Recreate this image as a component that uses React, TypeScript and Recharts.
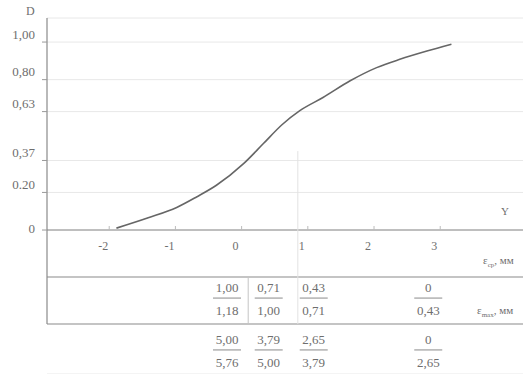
import React from 'react';
import { ComposedChart, Line, Scatter, XAxis, YAxis, CartesianGrid, ReferenceLine } from 'recharts';

// Curve D(v)
const curveV = [-1.8, -1.32, -0.89, -0.59, -0.29, 0.12, 0.42, 0.7, 0.97, 1.32, 1.73, 2.13, 2.48, 2.89, 3.26];
const curveD = [0.01, 0.065, 0.12, 0.176, 0.238, 0.353, 0.46, 0.56, 0.635, 0.705, 0.794, 0.864, 0.908, 0.952, 0.988];

const yTickValues = [0, 0.2, 0.37, 0.63, 0.8, 1.0];
const yTickLabels = ['0', '0.20', '0,37', '0,63', '0,80', '1,00'];

const xTickValues = [-2, -1, 0, 1, 2, 3];
const xTickLabels = ['-2', '-1', '0', '1', '2', '3'];

// table below the axis
const tableColumns = [-0.13, 0.5, 1.18, 2.91];
const row1Num = ['1,00', '0,71', '0,43', '0'];
const row1Den = ['1,18', '1,00', '0,71', '0,43'];
const row2Num = ['5,00', '3,79', '2,65', '0'];
const row2Den = ['5,76', '5,00', '3,79', '2,65'];
const rowLevels = [-0.362, -0.638];
const tableLines = [-0.25, -0.5];
const colSeparators = [0.19, 0.94];

const X_DOMAIN: [number, number] = [-2.849, 4.341];
const Y_DOMAIN: [number, number] = [-0.766, 1.128];

const curveData = curveV.map((x, i) => ({ x, y: curveD[i] }));
const xTickData = xTickValues.map((x, i) => ({ x, y: 0, label: xTickLabels[i] }));
const fractionData = [
  ...tableColumns.map((x, i) => ({ x, y: rowLevels[0], num: row1Num[i], den: row1Den[i] })),
  ...tableColumns.map((x, i) => ({ x, y: rowLevels[1], num: row2Num[i], den: row2Den[i] })),
];

const FONT = "'Liberation Serif', 'DejaVu Serif', serif";
const TXT = '#6e6e6e';

const YTick = (props: any) => {
  const { x, y, payload } = props;
  const idx = yTickValues.indexOf(payload.value);
  const lift = payload.value === 0 ? 2 : 8;
  return (
    <text x={x} y={y - lift} dy="0.355em" textAnchor="end" fontFamily={FONT} fontSize={13} fill={TXT}>
      {yTickLabels[idx]}
    </text>
  );
};

const XTickShape = (props: any) => {
  const { cx, cy, payload } = props;
  return (
    <g>
      <line x1={cx + 6} x2={cx + 6} y1={cy - 4} y2={cy} stroke="#bbb" />
      <text x={cx} y={cy + 20} textAnchor="middle" fontFamily={FONT} fontSize={12} fill={TXT}>
        {payload.label}
      </text>
    </g>
  );
};

const FractionShape = (props: any) => {
  const { cx, cy, payload } = props;
  return (
    <g>
      <text x={cx} y={cy - 6} textAnchor="middle" fontFamily={FONT} fontSize={13} fill={TXT}>
        {payload.num}
      </text>
      <line x1={cx - 14} x2={cx + 14} y1={cy} y2={cy} stroke="#8a8a8a" strokeWidth={1} />
      <text x={cx} y={cy + 17} textAnchor="middle" fontFamily={FONT} fontSize={13} fill={TXT}>
        {payload.den}
      </text>
    </g>
  );
};

const labelStyle: React.CSSProperties = {
  position: 'absolute',
  fontFamily: FONT,
  color: TXT,
  whiteSpace: 'nowrap',
};

export default function App() {
  return (
    <div style={{ position: 'absolute', left: 0, top: 0, width: 523, height: 374, background: '#fff', overflow: 'hidden' }}>
      <ComposedChart width={523} height={374} margin={{ top: 18, right: 0, bottom: 0, left: 0 }}>
        <CartesianGrid horizontal vertical={false} stroke="#e8e8e8" />
        <XAxis type="number" dataKey="x" domain={X_DOMAIN} hide allowDataOverflow />
        <YAxis
          type="number"
          dataKey="y"
          domain={Y_DOMAIN}
          ticks={yTickValues}
          width={47}
          axisLine={false}
          tickLine={{ stroke: '#999' }}
          tickSize={5}
          tickMargin={7}
          tick={<YTick />}
          allowDataOverflow
        />
        <ReferenceLine
          segment={[{ x: X_DOMAIN[0], y: tableLines[1] }, { x: X_DOMAIN[0], y: Y_DOMAIN[1] }]}
          stroke="#8a8a8a"
          strokeWidth={1.2}
        />
        <ReferenceLine y={0} stroke="#8a8a8a" strokeWidth={1.2} />
        {tableLines.map((v) => (
          <ReferenceLine key={v} y={v} stroke="#8a8a8a" strokeWidth={1.2} />
        ))}
        <ReferenceLine
          segment={[{ x: colSeparators[0], y: tableLines[0] }, { x: colSeparators[0], y: tableLines[1] }]}
          stroke="#c4c4c4"
        />
        <ReferenceLine
          segment={[{ x: colSeparators[1], y: 0.42 }, { x: colSeparators[1], y: tableLines[1] }]}
          stroke="#e2e2e2"
        />
        <Line
          data={curveData}
          dataKey="y"
          type="monotone"
          stroke="#666"
          strokeWidth={1.6}
          dot={false}
          isAnimationActive={false}
        />
        <Scatter data={xTickData} dataKey="y" shape={<XTickShape />} isAnimationActive={false} />
        <Scatter data={fractionData} dataKey="y" shape={<FractionShape />} isAnimationActive={false} />
      </ComposedChart>
      <div style={{ ...labelStyle, left: 26, top: 5, fontSize: 12, lineHeight: '12px' }}>D</div>
      <div style={{ ...labelStyle, left: 501, top: 205, fontSize: 11, lineHeight: '12px' }}>Y</div>
      <div style={{ ...labelStyle, left: 483, top: 254, fontSize: 11, lineHeight: '12px' }}>
        ε<sub style={{ fontSize: 7 }}>ср</sub>, мм
      </div>
      <div style={{ ...labelStyle, left: 477, top: 304, fontSize: 11, lineHeight: '12px' }}>
        ε<sub style={{ fontSize: 7 }}>max</sub>, мм
      </div>
    </div>
  );
}
